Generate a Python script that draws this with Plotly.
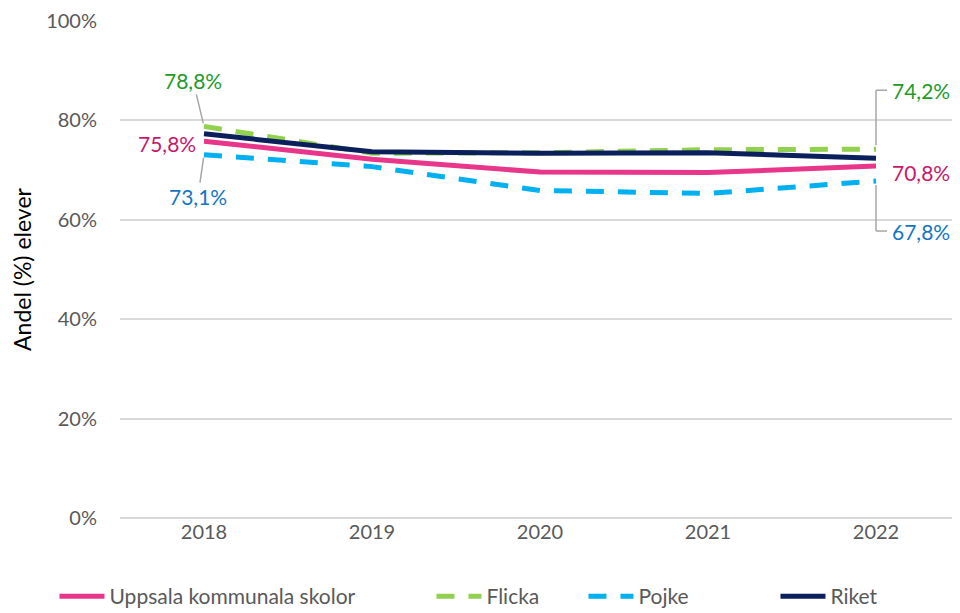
import plotly.graph_objects as go

years = ["2018", "2019", "2020", "2021", "2022"]
uppsala = [75.8, 72.2, 69.6, 69.5, 70.8]
flicka = [78.8, 73.4, 73.5, 74.1, 74.2]
pojke = [73.1, 70.7, 65.9, 65.3, 67.8]
riket = [77.3, 73.7, 73.4, 73.5, 72.4]
y_ticks = [0, 20, 40, 60, 80, 100]
y_tick_labels = ["0%", "20%", "40%", "60%", "80%", "100%"]

FONT = "Lato"
DASH = "18px,14px"
fig = go.Figure()
fig.add_trace(go.Scatter(x=years, y=uppsala, name="Uppsala kommunala skolor", mode="lines",
                         line=dict(color="#E8378A", width=5), legendwidth=317))
fig.add_trace(go.Scatter(x=years, y=flicka, name="Flicka", mode="lines",
                         line=dict(color="#92D050", width=5, dash=DASH), legendwidth=92))
fig.add_trace(go.Scatter(x=years, y=pojke, name="Pojke", mode="lines",
                         line=dict(color="#00B0F0", width=5, dash=DASH), legendwidth=132))
fig.add_trace(go.Scatter(x=years, y=riket, name="Riket", mode="lines",
                         line=dict(color="#0A1F5C", width=5), legendwidth=70))

def fmt(v):
    return f"{v:.1f}%".replace(".", ",")

green_t = "#1E9A28"
pink_t = "#C8186A"
blue_t = "#1475C4"
lead = "#A6A6A6"
LBL = 21

# 2018 labels
fig.add_annotation(x=0, y=flicka[0], text=fmt(flicka[0]), showarrow=True, arrowhead=0,
                   arrowcolor=lead, arrowwidth=1.5, ax=-11, ay=-46, standoff=3,
                   font=dict(color=green_t, size=LBL, family=FONT))
fig.add_annotation(x=0, y=uppsala[0], text=fmt(uppsala[0]), showarrow=False,
                   xanchor="right", xshift=-6, yshift=-2,
                   font=dict(color=pink_t, size=LBL, family=FONT))
fig.add_annotation(x=0, y=pojke[0], text=fmt(pojke[0]), showarrow=True, arrowhead=0,
                   arrowcolor=lead, arrowwidth=1.5, ax=-6, ay=42, standoff=3,
                   font=dict(color=blue_t, size=LBL, family=FONT))
# 2022 labels
fig.add_annotation(x=4, y=flicka[4], text=fmt(flicka[4]), showarrow=False,
                   xanchor="left", xshift=14, yshift=59,
                   font=dict(color=green_t, size=LBL, family=FONT))
fig.add_annotation(x=4, y=uppsala[4], text=fmt(uppsala[4]), showarrow=False,
                   xanchor="left", xshift=14, yshift=-6,
                   font=dict(color=pink_t, size=LBL, family=FONT))
fig.add_annotation(x=4, y=pojke[4], text=fmt(pojke[4]), showarrow=False,
                   xanchor="left", xshift=14, yshift=-50,
                   font=dict(color=blue_t, size=LBL, family=FONT))
# elbow leader lines at 2022
for val, dy in [(flicka[4], 59), (pojke[4], -50)]:
    fig.add_shape(type="line", xref="x", yref="y", xsizemode="pixel", ysizemode="pixel",
                  xanchor=4, yanchor=val, x0=0, x1=0, y0=(4 if dy > 0 else -4), y1=dy,
                  line=dict(color=lead, width=1.5))
    fig.add_shape(type="line", xref="x", yref="y", xsizemode="pixel", ysizemode="pixel",
                  xanchor=4, yanchor=val, x0=0, x1=11, y0=dy, y1=dy,
                  line=dict(color=lead, width=1.5))

fig.update_layout(
    width=952, height=605,
    margin=dict(l=112, r=0, t=13, b=95, autoexpand=False),
    paper_bgcolor="white", plot_bgcolor="white",
    font=dict(family=FONT, color="#595959", size=20),
    showlegend=True,
    legend=dict(orientation="h", x=-0.078, xanchor="left", y=-0.158, yanchor="middle",
                font=dict(size=21, color="#595959", family=FONT), itemwidth=45,
                tracegroupgap=0),
)
fig.update_xaxes(type="category", range=[-0.5, 4.5], showgrid=False, showline=False,
                 ticks="", automargin=False, tickfont=dict(size=20, color="#595959"))
fig.update_yaxes(range=[0, 100], tickvals=y_ticks, ticktext=y_tick_labels,
                 showgrid=True, gridcolor="#D9D9D9", gridwidth=1.5,
                 zeroline=True, zerolinecolor="#D9D9D9", zerolinewidth=1.5,
                 ticks="", ticklabelstandoff=22, automargin=False,
                 tickfont=dict(size=20, color="#595959"),
                 title=dict(text="Andel (%) elever", font=dict(size=23, color="#000000"), standoff=30))

fig.write_html("out.html")
